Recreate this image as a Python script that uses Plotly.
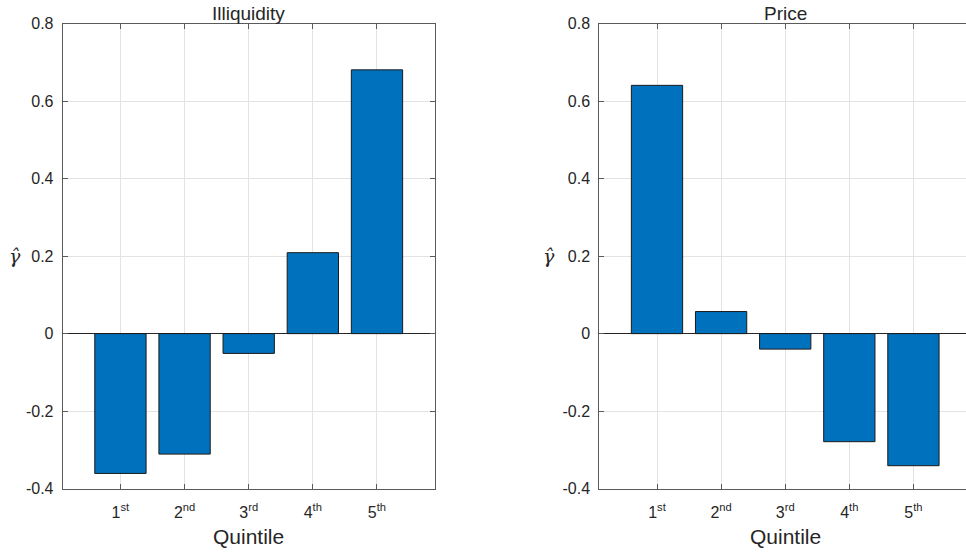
import plotly.graph_objects as go

quintiles = [1, 2, 3, 4, 5]
tick_labels = ["1<sup>st</sup>", "2<sup>nd</sup>", "3<sup>rd</sup>", "4<sup>th</sup>", "5<sup>th</sup>"]
illiquidity = [-0.361, -0.311, -0.051, 0.209, 0.681]
price = [0.641, 0.057, -0.040, -0.279, -0.341]
y_ticks = [-0.4, -0.2, 0, 0.2, 0.4, 0.6, 0.8]
y_tick_text = ["-0.4", "-0.2", "0", "0.2", "0.4", "0.6", "0.8"]

W, H = 966, 553
FONT = "Liberation Sans, Arial, Helvetica, sans-serif"
BAR = "#0072BD"
AX = "#5a5a5a"
GRID = "#e3e3e3"
TXT = "#262626"

# the photographed page is offset/squeezed vertically; map a target pixel row to a paper fraction
OFF, SPAN = 7.8, 537.5
def fy(y_px):
    return 1 - (y_px - OFF) / SPAN

fig = go.Figure()
fig.add_trace(go.Bar(x=quintiles, y=illiquidity, width=0.8, marker=dict(color=BAR, line=dict(color="#1a1a1a", width=1)),
                     xaxis="x", yaxis="y", showlegend=False, hoverinfo="skip"))
fig.add_trace(go.Bar(x=quintiles, y=price, width=0.8, marker=dict(color=BAR, line=dict(color="#1a1a1a", width=1)),
                     xaxis="x2", yaxis="y2", showlegend=False, hoverinfo="skip"))

ydom = [fy(489.7), fy(23.6)]
xdom1 = [62.7 / W, 434.7 / W]
xdom2 = [599.3 / W, 1.0]

common_x = dict(tickmode="array", tickvals=quintiles, ticktext=tick_labels, ticks="inside", ticklen=5,
                tickcolor=AX, showline=True, linecolor=AX, linewidth=1, showgrid=True, gridcolor=GRID,
                zeroline=False, tickfont=dict(family=FONT, size=16, color=TXT), fixedrange=True,
                ticklabelstandoff=9)
common_y = dict(range=[-0.4, 0.8], tickmode="array", tickvals=y_ticks, ticktext=y_tick_text, ticks="inside",
                ticklen=5, tickcolor=AX, showline=True, linecolor=AX, linewidth=1, showgrid=True,
                gridcolor=GRID, zeroline=True, zerolinecolor="#262626", zerolinewidth=1,
                tickfont=dict(family=FONT, size=16, color=TXT), domain=ydom, fixedrange=True,
                ticklabelstandoff=5)

fig.update_layout(
    width=W, height=H, margin=dict(l=0, r=0, t=0, b=0),
    paper_bgcolor="white", plot_bgcolor="white", barmode="overlay",
    xaxis=dict(common_x, domain=xdom1, range=[0.1, 5.9], mirror="ticks", anchor="y"),
    yaxis=dict(common_y, mirror="ticks", anchor="x"),
    xaxis2=dict(common_x, domain=xdom2, range=[0.1, 5.82], mirror="ticks", anchor="y2"),
    yaxis2=dict(common_y, mirror=False, anchor="x2"),
)

def ann(text, x, y, size, family=FONT):
    fig.add_annotation(text=text, x=x / W, y=fy(y), xref="paper", yref="paper", showarrow=False,
                       font=dict(family=family, size=size, color=TXT), xanchor="center", yanchor="middle")

ann("Illiquidity", 248.5, 13, 19)
ann("Price", 785, 13, 19)
ann("Quintile", 248.5, 538, 21)
ann("Quintile", 785, 538, 21)
ann("<i>γ̂</i>", 15, 256, 19, "DejaVu Serif")
ann("<i>γ̂</i>", 549, 256, 19, "DejaVu Serif")

fig.write_html("out.html", config={"displayModeBar": False},
               post_script="document.body.style.margin='0';document.documentElement.style.overflow='hidden';")
